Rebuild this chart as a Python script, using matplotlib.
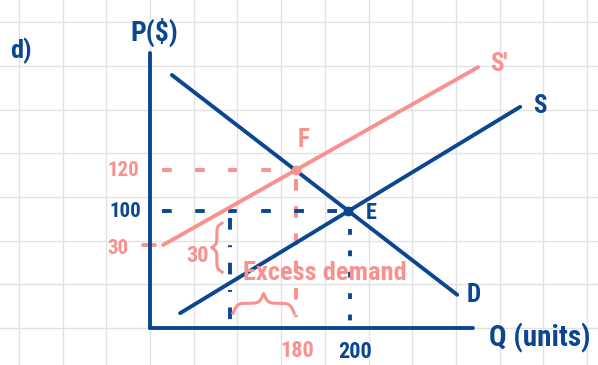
import matplotlib
matplotlib.use("Agg")
import matplotlib.pyplot as plt
from matplotlib import font_manager
import numpy as np

# sketch coordinates: one unit = one grid square, origin at the axes corner
navy = "#0b4690"
pink = "#f9918f"

names = {f.name for f in font_manager.fontManager.ttflist}
hand = [n for n in ["Liberation Sans Narrow", "Roboto Condensed", "DejaVu Sans"] if n in names]

demand = [(0.50, 5.79), (7.03, 0.76)]
supply = [(0.69, 0.34), (8.47, 5.06)]
supply_new = [(0.30, 1.90), (7.51, 5.97)]

price_labels = ["120", "100", "30"]
qty_labels = ["180", "200"]
q_supplied_new = 1.83   # where the dash-dot line drops at P=100

p_axis_top = 6.29
q_axis_end = 7.39


def line_coef(seg):
    (x0, y0), (x1, y1) = seg
    m = (y1 - y0) / (x1 - x0)
    return m, y0 - m * x0


def intersect(a, b):
    m1, c1 = line_coef(a)
    m2, c2 = line_coef(b)
    x = (c2 - c1) / (m1 - m2)
    return x, m1 * x + c1


def brace(ax, a, b, base, h, vertical=False, **kw):
    n = 201
    t = np.linspace(a, b, n)
    half = t[:n // 2 + 1]
    beta = 30.0 / abs(b - a)
    yh = (1 / (1 + np.exp(-beta * (half - half[0])))
          + 1 / (1 + np.exp(-beta * (half - half[-1]))))
    y = np.concatenate((yh, yh[-2::-1]))
    y = base + (y - 0.5) * h
    if vertical:
        ax.plot(y, t, **kw)
    else:
        ax.plot(t, y, **kw)


def label(x, y, s, c, size):
    ax.text(x, y, s, color=c, fontsize=size, family=hand, fontweight="bold",
            fontstretch="condensed", ha="center", va="center")


E = intersect(demand, supply)
F = intersect(demand, supply_new)

fig = plt.figure(figsize=(5.98, 3.65), dpi=100)
ax = fig.add_axes([0, 0, 1, 1])
ax.set_xlim(-150 / 43.7, 448 / 43.7)
ax.set_ylim(-37 / 43.7, 328 / 43.7)

# graph paper
ax.set_xticks(range(-3, 11))
ax.set_yticks(range(0, 8))
ax.grid(color="#e2e2e2", lw=1)
ax.tick_params(length=0, labelbottom=False, labelleft=False)
for s in ax.spines.values():
    s.set_visible(False)

lw = 2.8
# axes
ax.plot([0, 0], [0, p_axis_top], color=navy, lw=lw, solid_capstyle="round", zorder=3)
ax.plot([0, q_axis_end], [0, 0], color=navy, lw=lw, solid_capstyle="round", zorder=3)

# curves
for seg, c in [(demand, navy), (supply, navy), (supply_new, pink)]:
    xs, ys = zip(*seg)
    ax.plot(xs, ys, color=c, lw=lw, solid_capstyle="round", zorder=2)

# guide lines
ax.plot([0.27, F[0]], [F[1], F[1]], color=pink, lw=lw, dashes=(2.5, 6), zorder=1)
ax.plot([F[0], F[0]], [F[1] - 0.2, 0.25], color=pink, lw=lw, dashes=(3, 4), zorder=1)
ax.plot([0.27, E[0]], [E[1], E[1]], color=navy, lw=lw, dashes=(2.5, 6), zorder=1)
ax.plot([E[0] + 0.03, E[0] + 0.03], [E[1] - 0.4, 0.07], color=navy, lw=lw,
        dashes=(1.5, 4), zorder=1)
ax.plot([q_supplied_new, q_supplied_new], [E[1] - 0.16, 0.07], color=navy, lw=lw,
        dashes=(3, 4, 0.5, 4), zorder=1)
ax.plot([-0.16, 0.12], [supply_new[0][1], supply_new[0][1]], color=pink, lw=lw,
        solid_capstyle="round", zorder=1)

ax.plot(*E, "o", color=navy, ms=6, zorder=4)
ax.plot(*F, "o", color=pink, ms=6, zorder=4)

# braces
brace(ax, 1.90, 3.30, 0.34, 0.45, color=pink, lw=2.2)
brace(ax, 1.28, 2.40, 1.65, -0.24, vertical=True, color=pink, lw=2.2)

# labels
label(-2.95, 6.34, "d)", navy, 19)
label(0.11, 6.77, "P($)", navy, 20)
for lab, y, x, c in zip(price_labels, [F[1], E[1], supply_new[0][1] - 0.07],
                        [-0.62, -0.57, -0.73], [pink, navy, pink]):
    label(x, y, lab, c, 15)
label(F[0] + 0.03, -0.53, qty_labels[0], pink, 16)
label(E[0] + 0.15, -0.55, qty_labels[1], navy, 16)
label(1.08, 1.65, "30", pink, 16)
label(4.0, 1.26, "Excess demand", pink, 19)
label(3.52, 4.30, "F", pink, 18)
label(5.06, 2.63, "E", navy, 16)
label(7.99, 6.04, "S'", pink, 18)
label(8.92, 5.08, "S", navy, 18)
label(7.41, 0.76, "D", navy, 18)
label(8.92, -0.23, "Q (units)", navy, 21)

fig.savefig("out.png", dpi=100)
